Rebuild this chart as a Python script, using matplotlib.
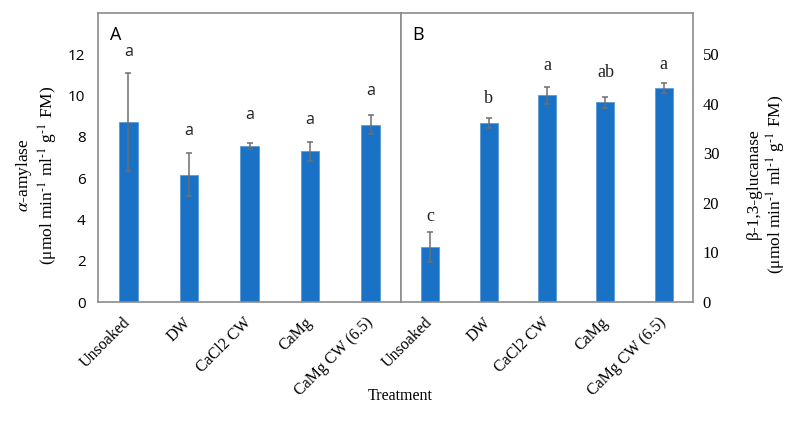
import matplotlib.pyplot as plt
import numpy as np

treatments = ['Unsoaked', 'DW', 'CaCl2 CW', 'CaMg', 'CaMg CW (6.5)']

amylase = [8.72, 6.17, 7.56, 7.30, 8.59]
amylase_err = [2.37, 1.05, 0.15, 0.47, 0.47]
amylase_letters = ['a', 'a', 'a', 'a', 'a']
amylase_letter_y = [12.1, 8.3, 9.08, 8.8, 10.2]

glucanase = [11.1, 36.2, 41.7, 40.3, 43.2]
glucanase_err = [2.95, 1.0, 1.75, 1.05, 0.95]
glucanase_letters = ['c', 'b', 'a', 'ab', 'a']
glucanase_letter_y = [17.3, 41.0, 47.8, 46.3, 48.0]

plt.rcParams['mathtext.fontset'] = 'stix'

bar_color = '#1a72c6'
err_color = '#6e6e6e'
frame_color = '#8c8c8c'
serif = 'Liberation Serif'
sans = 'Open Sans'

W, H = 797, 423
fig = plt.figure(figsize=(W / 100, H / 100), dpi=100)

top, bottom = 13, 302
ax1 = fig.add_axes([98 / W, (H - bottom) / H, (401 - 98) / W, (bottom - top) / H])
ax2 = fig.add_axes([401 / W, (H - bottom) / H, (693 - 401) / W, (bottom - top) / H])

x = np.arange(len(treatments))

ax1.bar(x, amylase, width=0.31, color=bar_color, edgecolor='#5b9bd5', linewidth=0.6,
        yerr=amylase_err, error_kw=dict(ecolor=err_color, elinewidth=1.1, capsize=2.5, capthick=1.1))
for xi, lab, ly in zip(x, amylase_letters, amylase_letter_y):
    ax1.text(xi, ly, lab, ha='center', va='center', fontsize=11.5, family=sans, color='#222222')
ax1.set_ylim(0, 14)
ax1.set_yticks(range(0, 13, 2))
ax1.set_xlim(-0.5, 4.5)
ax1.text(0.04, 0.955, 'A', transform=ax1.transAxes, ha='left', va='top', fontsize=13, family=sans)

ax2.bar(x, glucanase, width=0.31, color=bar_color, edgecolor='#5b9bd5', linewidth=0.6,
        yerr=glucanase_err, error_kw=dict(ecolor=err_color, elinewidth=1.1, capsize=2.5, capthick=1.1))
for xi, lab, ly in zip(x, glucanase_letters, glucanase_letter_y):
    ax2.text(xi, ly, lab, ha='center', va='center', fontsize=13, family=serif, color='#222222')
ax2.set_ylim(0, 14 * 50 / 12)
ax2.set_yticks(range(0, 51, 10))
ax2.set_xlim(-0.5, 4.5)
ax2.yaxis.tick_right()
ax2.text(0.04, 0.955, 'B', transform=ax2.transAxes, ha='left', va='top', fontsize=13, family=sans)

for ax in (ax1, ax2):
    for s in ax.spines.values():
        s.set_color(frame_color)
        s.set_linewidth(1.2)
    ax.set_xticks(x)
    ax.set_xticklabels(treatments, rotation=45, ha='right', va='center',
                       rotation_mode='anchor', family=serif, fontsize=11.5)
    ax.tick_params(axis='x', length=0, pad=13)
    ax.tick_params(axis='y', length=0)

for t in ax1.get_yticklabels():
    t.set_family(sans)
    t.set_fontsize(11)
ax1.tick_params(axis='y', pad=9)
for t in ax2.get_yticklabels():
    t.set_family(serif)
    t.set_fontsize(12)
ax2.tick_params(axis='y', pad=7)

unit = '(μmol min$^{\u20101}$ ml$^{\u20101}$ g$^{\u20101}$ FM)'
fig.text(37 / W, 1 - 175 / H, '$\\alpha$-amylase\n' + unit,
         rotation=90, ha='center', va='center', multialignment='center',
         family=serif, fontsize=12.5, linespacing=1.2)
fig.text(767 / W, 1 - 184 / H, 'β-1,3-glucanase\n' + unit,
         rotation=90, ha='center', va='center', multialignment='center',
         family=serif, fontsize=12.5, linespacing=1.2)
fig.text(400 / W, 1 - 396 / H, 'Treatment', ha='center', va='center', family=serif, fontsize=11.5)

fig.savefig('out.png', dpi=100)
